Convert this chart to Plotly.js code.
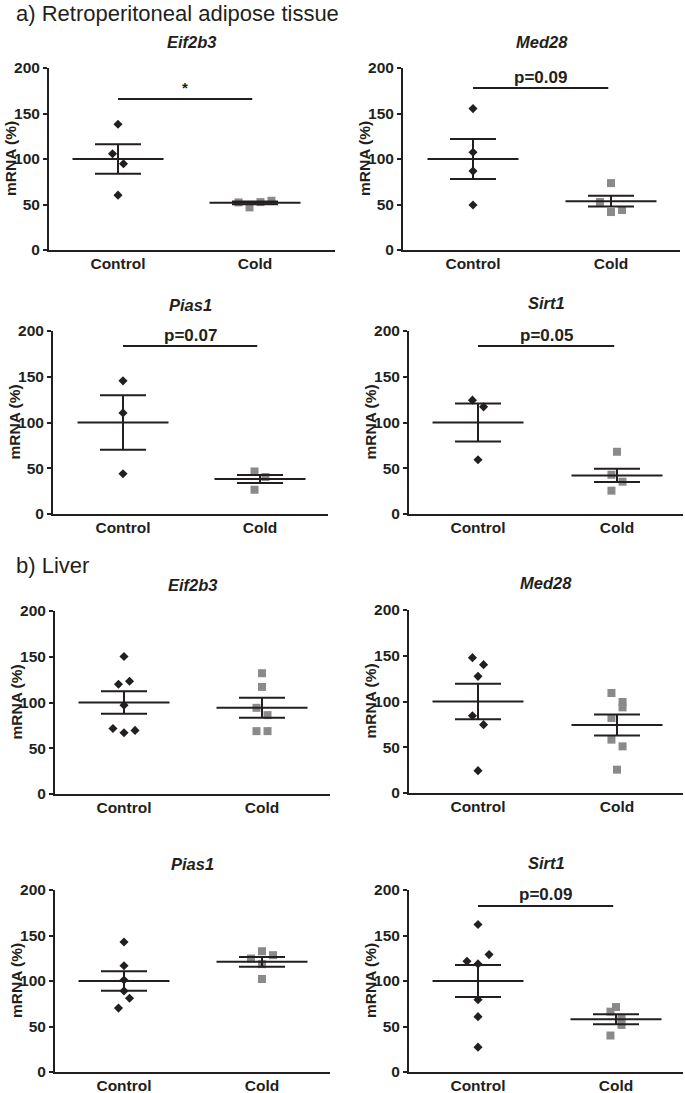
<!DOCTYPE html>
<html>
<head>
<meta charset="utf-8">
<script src="https://cdn.plot.ly/plotly-3.0.1.min.js"></script>
<style>
  body { margin: 0; background: #fff; }
  #chart { width: 685px; height: 1093px; }
</style>
</head>
<body>
<div id="chart"></div>
<script>
// values, one row per panel:
// rows 0-3 = retroperitoneal adipose tissue, rows 4-7 = liver
var categories = ['Control', 'Cold'];
var genes = ['Eif2b3', 'Med28', 'Pias1', 'Sirt1', 'Eif2b3', 'Med28', 'Pias1', 'Sirt1'];

var ctrlValues = [
  [138.2, 105.7, 94.7, 60.3],
  [155.4, 107.5, 86.7, 49.4],
  [145.5, 110.5, 44.0],
  [124.4, 117.1, 59.3],
  [150.2, 120.0, 123.3, 97.1, 71.6, 66.9, 69.5],
  [147.9, 140.3, 127.5, 84.5, 74.7, 24.4],
  [142.9, 116.7, 101.1, 89.1, 81.1, 70.2],
  [162.1, 121.7, 129.0, 118.8, 79.4, 60.8, 27.3]
];
var ctrlJitter = [
  [0, -0.04, 0.04, 0],
  [0, 0, 0, 0],
  [0, 0, 0],
  [-0.04, 0.04, 0],
  [0, -0.04, 0.04, 0, -0.08, 0, 0.08],
  [-0.04, 0.04, 0, -0.04, 0.04, 0],
  [0, 0, 0, 0, 0.04, -0.04],
  [0, -0.08, 0.08, 0, 0, 0, 0]
];
var coldValues = [
  [52.3, 46.8, 52.6, 54.1],
  [73.5, 52.7, 41.7, 43.9],
  [46.5, 26.5, 40.4],
  [68.0, 42.9, 35.3, 25.5],
  [132.0, 117.1, 94.2, 86.2, 68.7, 68.7],
  [109.3, 99.5, 93.6, 82.0, 58.3, 51.0, 25.5],
  [124.7, 132.7, 128.4, 118.5, 102.2],
  [71.4, 66.3, 59.0, 51.7, 40.1]
];
var coldJitter = [
  [-0.12, -0.04, 0.04, 0.12],
  [0, -0.08, 0, 0.08],
  [-0.04, -0.04, 0.04],
  [0, -0.04, 0.04, -0.04],
  [0, 0, -0.04, 0.04, -0.04, 0.04],
  [-0.04, 0.04, 0.04, -0.04, -0.04, 0.04, 0],
  [-0.08, 0, 0.08, 0, 0],
  [0, -0.04, 0.04, 0.04, -0.04]
];

var ctrlMean = [100, 100, 100, 100, 100, 100, 100, 100];
var ctrlSem  = [16.1, 22.0, 29.8, 20.7, 12.2, 19.5, 10.7, 17.5];
var coldMean = [51.9, 53.7, 38.2, 42.2, 94.2, 74.3, 121.1, 57.9];
var coldSem  = [1.5, 5.8, 4.3, 7.3, 11.0, 11.5, 5.4, 5.5];

// significance brackets
var sigPanel = [0, 1, 2, 3, 7];
var sigText  = ['*', 'p=0.09', 'p=0.07', 'p=0.05', 'p=0.09'];
var sigLineY = [166, 178, 183.6, 183.6, 182.5];
var sigTextY = [179, 190, 195.6, 195.6, 195.6];

var yTicks = [0, 50, 100, 150, 200];
var sections = ['a) Retroperitoneal adipose tissue', 'b) Liver'];

// panel placement in pixels (axis left/right, top at 200, bottom at 0, category centres, title y)
var W = 685, H = 1093;
var boxes = [
  {x0: 49,  x1: 335, top: 68,  bot: 250,  ctrl: 118, cold: 255, ty: 42},
  {x0: 403, x1: 680, top: 68,  bot: 250,  ctrl: 473, cold: 611, ty: 42},
  {x0: 53,  x1: 328, top: 331, bot: 514,  ctrl: 123, cold: 260, ty: 305},
  {x0: 409, x1: 683, top: 331, bot: 514,  ctrl: 478, cold: 617, ty: 303},
  {x0: 55,  x1: 330, top: 611, bot: 794,  ctrl: 124, cold: 262, ty: 585},
  {x0: 409, x1: 683, top: 610, bot: 793,  ctrl: 478, cold: 617, ty: 583},
  {x0: 55,  x1: 330, top: 890, bot: 1072, ctrl: 124, cold: 262, ty: 864},
  {x0: 409, x1: 683, top: 890, bot: 1072, ctrl: 478, cold: 616, ty: 863}
];
var sectionY = [13, 565];

var ink = '#231f20';
var grey = '#8a8a8a';
var fam = 'Arial, Liberation Sans, sans-serif';

function px(x) { return x / W; }
function py(y) { return 1 - y / H; }

var traces = [];
var layout = {
  width: W, height: H,
  margin: {l: 0, r: 0, t: 0, b: 0},
  paper_bgcolor: '#fff', plot_bgcolor: '#fff',
  showlegend: false,
  font: {family: fam, color: ink},
  annotations: [],
  shapes: []
};

for (var i = 0; i < 8; i++) {
  var b = boxes[i];
  var sfx = i === 0 ? '' : String(i + 1);
  var xa = 'x' + sfx, ya = 'y' + sfx;
  var unit = b.cold - b.ctrl;

  layout['xaxis' + sfx] = {
    domain: [px(b.x0), px(b.x1)],
    anchor: ya,
    range: [(b.x0 - b.ctrl) / unit, (b.x1 - b.ctrl) / unit],
    tickvals: [0, 1], ticktext: categories,
    ticks: '', showgrid: false, zeroline: false,
    showline: true, linecolor: ink, linewidth: 2,
    ticklabelstandoff: -2,
    tickfont: {size: 15.5, weight: 'bold', color: ink, family: fam},
    fixedrange: true
  };
  layout['yaxis' + sfx] = {
    domain: [py(b.bot), py(b.top)],
    anchor: xa,
    range: [0, 200],
    tickvals: yTicks,
    ticks: 'outside', ticklen: 4, tickwidth: 2, tickcolor: ink,
    showgrid: false, zeroline: false,
    showline: true, linecolor: ink, linewidth: 2,
    tickfont: {size: 15.5, weight: 'bold', color: ink, family: fam},
    fixedrange: true
  };

  traces.push({
    type: 'scatter', mode: 'markers', xaxis: xa, yaxis: ya,
    x: ctrlJitter[i], y: ctrlValues[i],
    marker: {symbol: 'diamond', size: 7, color: ink, line: {width: 0}}
  });
  traces.push({
    type: 'scatter', mode: 'markers', xaxis: xa, yaxis: ya,
    x: coldJitter[i].map(function (d) { return 1 + d; }), y: coldValues[i],
    marker: {symbol: 'square', size: 8, color: grey, line: {width: 0}}
  });
  // mean line with SEM whiskers
  traces.push({
    type: 'scatter', mode: 'markers', xaxis: xa, yaxis: ya,
    x: [0, 1], y: [ctrlMean[i], coldMean[i]],
    marker: {symbol: 'line-ew', size: 65, color: ink, line: {width: 2, color: ink}},
    error_y: {type: 'data', array: [ctrlSem[i], coldSem[i]], visible: true,
              color: ink, thickness: 2, width: 23}
  });

  layout.annotations.push({
    xref: 'paper', yref: 'paper',
    x: px((b.x0 + b.x1) / 2), y: py(b.ty),
    xanchor: 'center', yanchor: 'middle', showarrow: false,
    text: genes[i],
    font: {size: 16.5, weight: 'bold', style: 'italic', color: ink, family: fam}
  });
  layout.annotations.push({
    xref: 'paper', yref: 'paper',
    x: px(b.x0 - 39), y: py((b.top + b.bot) / 2),
    xanchor: 'center', yanchor: 'middle', showarrow: false,
    textangle: -90, text: 'mRNA (%)',
    font: {size: 15.5, weight: 'bold', color: ink, family: fam}
  });
}

for (var k = 0; k < sigPanel.length; k++) {
  var p = sigPanel[k];
  var s = p === 0 ? '' : String(p + 1);
  layout.shapes.push({
    type: 'line', xref: 'x' + s, yref: 'y' + s,
    x0: 0, x1: 0.98, y0: sigLineY[k], y1: sigLineY[k],
    line: {color: ink, width: 2}
  });
  layout.annotations.push({
    xref: 'x' + s, yref: 'y' + s,
    x: 0.49, y: sigTextY[k],
    xanchor: 'center', yanchor: 'middle', showarrow: false,
    text: sigText[k],
    font: {size: sigText[k] === '*' ? 15 : 17, weight: 'bold', color: ink, family: fam}
  });
}

for (var j = 0; j < sections.length; j++) {
  layout.annotations.push({
    xref: 'paper', yref: 'paper',
    x: px(14), y: py(sectionY[j]),
    xanchor: 'left', yanchor: 'middle', showarrow: false,
    text: sections[j],
    font: {size: 22, color: ink, family: fam}
  });
}

Plotly.newPlot('chart', traces, layout, {staticPlot: true, displayModeBar: false});
</script>
</body>
</html>
